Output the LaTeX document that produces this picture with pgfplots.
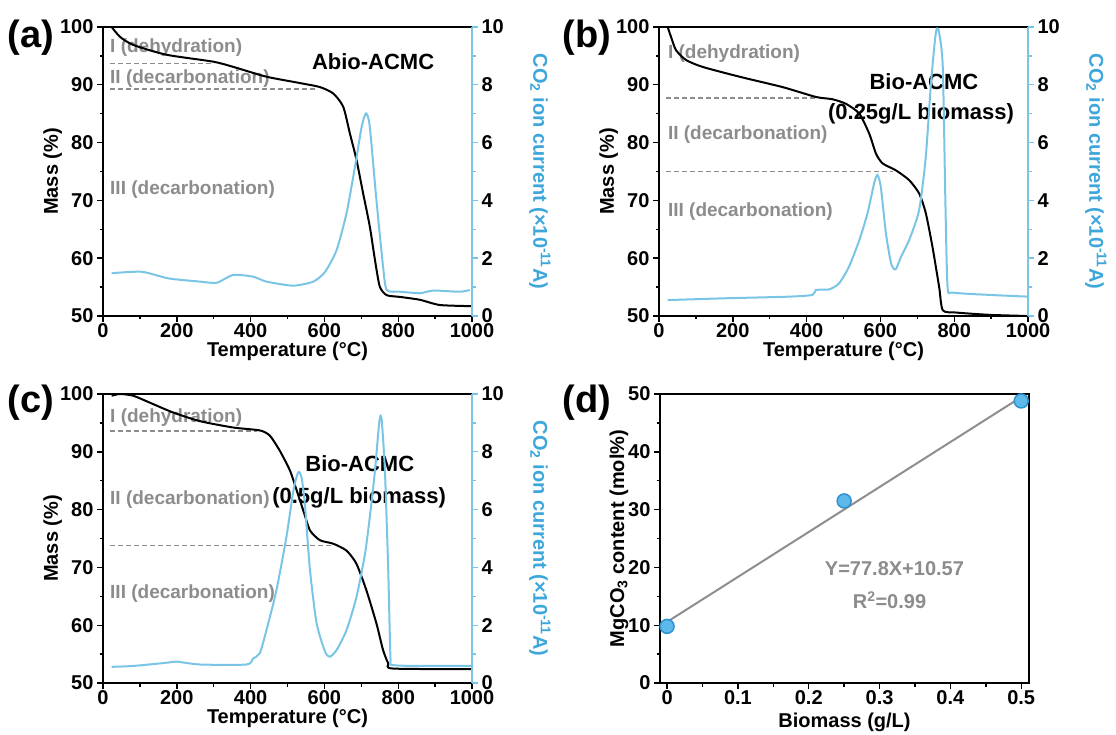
\documentclass[border=0pt]{standalone}
\usepackage{pgfplots}
\pgfplotsset{compat=1.18}
\usepackage{fontspec}
\setmainfont{Liberation Sans}
\newcommand\fs[1]{\fontsize{#1}{#1}\selectfont}

\definecolor{co2}{HTML}{7AC4E5}
\definecolor{co2lab}{HTML}{3DA6DA}
\definecolor{note}{HTML}{8C8C8C}
\definecolor{fitline}{HTML}{8E8E8E}
\definecolor{dotfill}{HTML}{5DB9EA}
\definecolor{dotedge}{HTML}{2F92CF}

\tikzset{
  gtxt/.style={anchor=west, inner sep=0pt, text=note, font=\bfseries\fs{19}},
  btxt/.style={text=black, font=\bfseries\fs{22}},
}

\pgfplotsset{
  base/.style={
    scale only axis, width=369pt, height=289pt,
    anchor=south west,
    tick label style={font=\bfseries\fs{20}},
    xticklabel style={inner sep=1pt},
    /pgf/number format/assume math mode=true,
    /pgf/number format/1000 sep={},
    label style={font=\bfseries\fs{20}},
    axis line style={line width=1.6pt},
    tick style={line width=1.4pt, black},
    major tick length=6pt, minor tick length=3.5pt,
    tick align=outside,
  },
  mass/.style={base,
    xmin=0, xmax=1000, ymin=50, ymax=100,
    xtick={0,200,400,600,800,1000}, minor x tick num=1,
    ytick={50,60,70,80,90,100}, minor y tick num=1,
    tick pos=left,
    xlabel={Temperature (°C)}, ylabel={Mass (\%)},
    xlabel style={at={(axis description cs:0.5,-0.122)}, anchor=center},
    ylabel style={at={(axis description cs:-0.136,0.5)}, anchor=center},
  },
  cur/.style={base,
    xmin=0, xmax=1000, ymin=0, ymax=10,
    axis x line=none, axis y line*=right,
    ytick={0,2,4,6,8,10}, minor y tick num=1,
    y axis line style={co2},
    tick style={line width=1.4pt, co2},
    ylabel={CO\textsubscript{2} ion current (×10\textsuperscript{-11}A)},
    ylabel style={at={(axis description cs:1.184,0.5)}, anchor=center, rotate=180, text=co2lab},
  },
  blk/.style={black, line width=2pt, smooth, tension=0.4},
  blu/.style={co2, line width=2pt, smooth, tension=0.4},
  dsh/.style={note, line width=1.5pt, dash pattern=on 5pt off 3pt},
}

\begin{document}
\begin{tikzpicture}
\path[use as bounding box] (0,0) rectangle (1116pt,734pt);

% ---------------- (a) ----------------
\begin{axis}[mass, at={(103pt,418pt)}]
\addplot[dsh] coordinates {(20,93.7) (300,93.7)};
\addplot[dsh] coordinates {(20,89.3) (575,89.3)};
\node[gtxt] at (axis cs:19,96.5) {I (dehydration)};
\node[gtxt] at (axis cs:19,91.1) {II (decarbonation)};
\node[gtxt] at (axis cs:19,71.8) {III (decarbonation)};
\node[btxt] at (axis cs:732,94.0) {Abio-ACMC};
\addplot[blk] coordinates {
(23.5,100) (46,98.3) (82,96.9) (172,95.2) (299,94.0) (353,93.1) (443,91.4)
(534,90.3) (588,89.6) (624,88.5) (651,86.2) (669,81.6) (687,77.0) (705,71.2)
(723,65.5) (737,59.7) (750,55.1) (769,53.6) (805,53.3) (859,52.8) (913,51.9) (1000,51.7)
};
\end{axis}
\begin{axis}[cur, at={(103pt,418pt)}]
\addplot[blu] coordinates {
(23.5,1.48) (105,1.53) (178,1.30) (263,1.19) (308,1.15) (353,1.42) (407,1.36)
(443,1.19) (515,1.05) (570,1.19) (602,1.53) (633,2.28) (660,3.56) (683,5.17)
(701,6.55) (713,7.01) (723,6.55) (741,4.01) (759,1.71) (769,0.90) (805,0.84)
(859,0.79) (895,0.88) (967,0.84) (994,0.90)
};
\end{axis}

% ---------------- (b) ----------------
\begin{axis}[mass, at={(659pt,418pt)}]
\addplot[dsh] coordinates {(20,87.7) (425,87.7)};
\addplot[dsh] coordinates {(20,75.0) (633,75.0)};
\node[gtxt] at (axis cs:24,95.4) {I (dehydration)};
\node[gtxt] at (axis cs:24,81.4) {II (decarbonation)};
\node[gtxt] at (axis cs:24,68.0) {III (decarbonation)};
\node[btxt] at (axis cs:718,90.5) {Bio-ACMC};
\node[btxt] at (axis cs:710,85.0) {(0.25g/L biomass)};
\addplot[blk] coordinates {
(23.5,100) (32.5,98.3) (46,96.0) (73,94.3) (118,93.1) (218,91.4) (335,89.6)
(425,87.9) (470,87.5) (507,86.7) (543,85.0) (570,81.5) (588,78.1) (606,76.4)
(642,75.2) (678,73.5) (705,71.2) (723,67.8) (741,62.0) (759,55.1) (769,51.0)
(805,50.6) (895,50.2) (1000,50.0)
};
\end{axis}
\begin{axis}[cur, at={(659pt,418pt)}]
\addplot[blu] coordinates {
(23.5,0.55) (172,0.61) (353,0.67) (416,0.73) (425,0.90) (461,0.92) (488,1.13)
(515,1.71) (543,2.63) (565,3.55) (583,4.59) (592,4.88) (601,4.47) (615,2.86)
(629,1.82) (641,1.61) (656,2.05) (678,2.63) (705,3.67) (723,5.51) (737,8.05)
(750,9.78) (758,9.87) (769,8.63) (776,4.01) (782,1.01) (796,0.81) (895,0.73) (1000,0.67)
};
\end{axis}

% ---------------- (c) ----------------
\begin{axis}[mass, at={(103pt,51pt)}]
\addplot[dsh] coordinates {(20,93.6) (416,93.6)};
\addplot[dsh] coordinates {(20,73.8) (624,73.8)};
\node[gtxt] at (axis cs:19,95.9) {I (dehydration)};
\node[gtxt] at (axis cs:19,81.8) {II (decarbonation)};
\node[gtxt] at (axis cs:19,65.5) {III (decarbonation)};
\node[btxt] at (axis cs:696,87.9) {Bio-ACMC};
\node[btxt] at (axis cs:694,82.1) {(0.5g/L biomass)};
\addplot[blk] coordinates {
(23.5,99.7) (46,100) (82,99.7) (127,98.5) (190,96.8) (263,95.3) (353,94.2)
(425,93.7) (452,92.8) (479,90.2) (507,86.7) (525,83.3) (543,79.8) (561,76.4)
(588,74.7) (624,74.1) (660,72.9) (687,70.6) (714,66.0) (741,60.3) (759,55.7)
(773,53.4) (786,52.5) (1000,52.4)
};
\end{axis}
\begin{axis}[cur, at={(103pt,51pt)}]
\addplot[blu] coordinates {
(23.5,0.56) (82,0.59) (172,0.70) (199,0.74) (263,0.64) (389,0.64) (407,0.85)
(425,1.03) (443,1.83) (470,3.21) (497,5.05) (516,6.66) (529,7.29) (538,7.11)
(547,6.20) (561,3.90) (579,2.06) (602,1.08) (615,0.91) (633,1.14) (660,1.83)
(687,2.98) (710,4.47) (723,5.74) (737,7.34) (749,9.07) (755,9.13) (764,7.34)
(773,3.90) (779,0.91) (786,0.62) (895,0.59) (1000,0.59)
};
\end{axis}

% ---------------- (d) ----------------
\begin{axis}[base, at={(660pt,51pt)}, clip=false,
  xmin=-0.01, xmax=0.511, ymin=0, ymax=50,
  xtick={0,0.1,0.2,0.3,0.4,0.5}, xticklabels={0,0.1,0.2,0.3,0.4,0.5},
  minor x tick num=1,
  ytick={0,10,20,30,40,50}, minor y tick num=1, tick pos=left,
  xlabel={Biomass (g/L)}, ylabel={MgCO\textsubscript{3} content (mol\%)},
  xlabel style={at={(axis description cs:0.5,-0.135)}, anchor=center},
  ylabel style={at={(axis description cs:-0.111,0.5)}, anchor=center},
]
\addplot[fitline, line width=2pt] coordinates {(0,10.57) (0.5,49.47)};
\addplot[only marks, mark=*, mark size=7pt,
  mark options={fill=dotfill, draw=dotedge, line width=1.5pt}]
  coordinates {(0,9.8) (0.25,31.5) (0.5,48.8)};
\node[text=note, font=\bfseries\fs{20}] at (axis cs:0.321,19.8) {Y=77.8X+10.57};
\node[text=note, font=\bfseries\fs{20}] at (axis cs:0.314,14.3) {R\textsuperscript{2}=0.99};
\end{axis}

% panel letters
\node[font=\bfseries\fs{38}] at (31pt,696pt) {(a)};
\node[font=\bfseries\fs{38}] at (587pt,696pt) {(b)};
\node[font=\bfseries\fs{38}] at (31pt,331pt) {(c)};
\node[font=\bfseries\fs{38}] at (587pt,331pt) {(d)};
\end{tikzpicture}
\end{document}
